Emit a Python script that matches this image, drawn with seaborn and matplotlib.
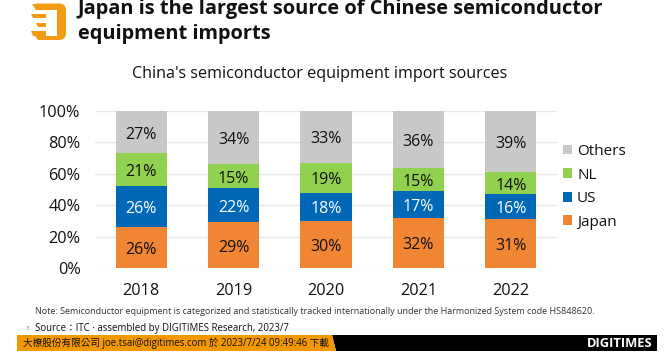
import matplotlib
matplotlib.use("Agg")
import matplotlib.pyplot as plt
from matplotlib.patches import Rectangle, Polygon, PathPatch
from matplotlib.path import Path
import numpy as np
import pandas as pd
import seaborn as sns

years = ["2018", "2019", "2020", "2021", "2022"]
japan = [26, 29, 30, 32, 31]
us = [26, 22, 18, 17, 16]
nl = [21, 15, 19, 15, 14]
others = [27, 34, 33, 36, 39]
series_names = ["Japan", "US", "NL", "Others"]
series_values = [japan, us, nl, others]
series_colors = ["#F08634", "#0068B7", "#92D050", "#C8C8C8"]
label_colors = ["#111111", "white", "#111111", "#111111"]

W, H = 670, 356
sns.set_theme(style="white")
plt.rcParams['font.family'] = ['Open Sans', 'Noto Sans CJK TC', 'DejaVu Sans']

fig = plt.figure(figsize=(W / 100, H / 100), dpi=100, facecolor="white")
ax = fig.add_axes([95 / W, 1 - 268 / H, 462 / W, 157 / H])

bottom = np.zeros(len(years))
for name, vals, col, lc in zip(series_names, series_values, series_colors, label_colors):
    df = pd.DataFrame({"year": years, "share": vals})
    sns.barplot(data=df, x="year", y="share", color=col, bottom=bottom, width=0.555,
                saturation=1, ax=ax, label=name, zorder=3, errorbar=None, linewidth=0)
    for i, v in enumerate(vals):
        ax.annotate(f"{v}%", (i, bottom[i] + v / 2), xytext=(0, -1.8), textcoords="offset points",
                    ha="center", va="center", fontsize=11.5, color=lc, zorder=4)
    bottom = bottom + np.array(vals)

ax.set_xlim(-0.5, 4.5)
ax.set_ylim(0, 100)
ax.set_yticks(range(0, 101, 20))
ax.set_yticklabels([f"{v}%" for v in range(0, 101, 20)])
ax.set_xlabel("")
ax.set_ylabel("")
ax.grid(axis="y", color="#E8E8E8", lw=1, zorder=0)
ax.set_axisbelow(True)
sns.despine(ax=ax, left=True, bottom=True, top=True, right=True)
ax.tick_params(axis="both", length=0, labelsize=11.7, labelcolor="#111111")
ax.tick_params(axis="x", pad=10.5)
ax.tick_params(axis="y", pad=10.5)

handles, labels = ax.get_legend_handles_labels()
ax.legend(handles[::-1], labels[::-1], loc="center left", bbox_to_anchor=(1.013, 0.517),
          frameon=False, fontsize=11, handlelength=0.59, handleheight=0.59, handletextpad=0.33,
          labelspacing=0.56, labelcolor="#111111", borderaxespad=0, borderpad=0)


def px(x, y):
    return x / W, 1 - y / H


fig.text(*px(78, 9), "Japan is the largest source of Chinese semiconductor", fontsize=14.4,
         fontweight="bold", color="#111111", va="center", ha="left")
fig.text(*px(78, 34), "equipment imports", fontsize=14.4, fontweight="bold", color="#111111",
         va="center", ha="left")
fig.text(*px(319.5, 74.5), "China's semiconductor equipment import sources", fontsize=11.6,
         color="#111111", va="center", ha="center")
fig.text(*px(35, 311.5), "Note: Semiconductor equipment is categorized and statistically tracked internationally under the Harmonized System code HS848620.",
         fontsize=6.53, color="#333333", va="center", ha="left")
fig.text(*px(26, 328), "3", fontsize=4.5, color="#777777", va="center", ha="left")
fig.text(*px(35, 328), "Source\uff1aITC \u00b7 assembled by DIGITIMES Research, 2023/7", fontsize=6.95,
         color="#111111", va="center", ha="left")


def poly(points, color):
    fig.add_artist(Polygon([px(x, y) for x, y in points], closed=True, transform=fig.transFigure,
                           facecolor=color, edgecolor="none", lw=0))


# footer band
poly([(332, 335), (657, 335), (657, 351), (336, 351)], "black")
poly([(17, 335), (332, 335), (336, 351), (17, 351)], "#F39800")
fig.text(*px(23, 343.5), "\u5927\u6a51\u80a1\u4efd\u6709\u9650\u516c\u53f8 joe.tsai@digitimes.com \u65bc 2023/7/24 09:49:46 \u4e0b\u8f09",
         fontsize=6.9, color="#111111", va="center", ha="left")
fig.text(*px(652, 343.5), "DIGITIMES", fontsize=9.3, fontweight="bold", color="white", va="center", ha="right")

# logo
logo = "#F39C12"
d_verts = [(36, 3.5), (59, 3.5), (66, 3.5), (66, 10.5), (66, 33), (66, 40), (59, 40), (38, 40), (35, 36), (36, 3.5)]
d_codes = [Path.MOVETO, Path.LINETO, Path.CURVE3, Path.CURVE3, Path.LINETO, Path.CURVE3, Path.CURVE3,
           Path.LINETO, Path.LINETO, Path.CLOSEPOLY]
fig.add_artist(PathPatch(Path([px(x, y) for x, y in d_verts], d_codes), transform=fig.transFigure,
                         facecolor=logo, edgecolor="none", lw=0))
poly([(33, 10), (57, 10), (57, 35.5), (33, 35.5)], "white")
poly([(32, 3.5), (40, 3.5), (40, 10), (36, 10)], logo)
poly([(31, 14), (46, 14), (46, 18), (33, 18)], logo)
poly([(36, 23), (46, 23), (46, 27), (38, 27)], logo)
poly([(31, 31), (46, 31), (46, 35.5), (33, 35.5)], logo)

fig.savefig("out.png", dpi=100)
